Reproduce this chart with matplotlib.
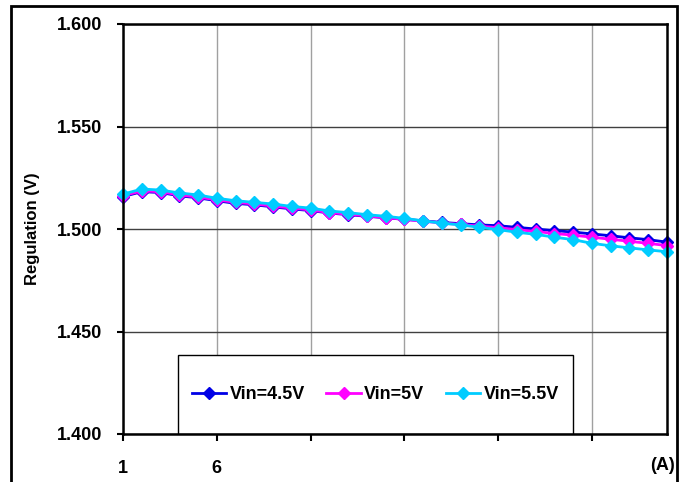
import matplotlib
matplotlib.use("Agg")
import matplotlib.pyplot as plt
import numpy as np
from matplotlib.patches import Rectangle

plt.rcParams["font.family"] = ["Liberation Sans", "DejaVu Sans"]
plt.rcParams["font.weight"] = "bold"

current = np.arange(1, 31)
vin_45 = [1.5158, 1.5182, 1.5178, 1.5162, 1.5152, 1.5138, 1.5125, 1.5118, 1.5108, 1.5098,
          1.5090, 1.5078, 1.5070, 1.5062, 1.5055, 1.5047, 1.5040, 1.5032, 1.5026, 1.5020,
          1.5016, 1.5008, 1.5000, 1.4992, 1.4985, 1.4976, 1.4967, 1.4957, 1.4948, 1.4936]
vin_50 = [1.5162, 1.5186, 1.5182, 1.5166, 1.5156, 1.5142, 1.5130, 1.5122, 1.5112, 1.5102,
          1.5093, 1.5080, 1.5072, 1.5064, 1.5056, 1.5047, 1.5038, 1.5029, 1.5022, 1.5014,
          1.5006, 1.4997, 1.4988, 1.4978, 1.4970, 1.4960, 1.4950, 1.4940, 1.4930, 1.4919]
vin_55 = [1.5170, 1.5195, 1.5190, 1.5176, 1.5166, 1.5150, 1.5138, 1.5130, 1.5122, 1.5110,
          1.5102, 1.5088, 1.5080, 1.5070, 1.5062, 1.5052, 1.5040, 1.5028, 1.5020, 1.5008,
          1.4997, 1.4984, 1.4974, 1.4960, 1.4948, 1.4930, 1.4918, 1.4908, 1.4898, 1.4889]

series = [
    ("Vin=4.5V", vin_45, "#0000E6"),
    ("Vin=5V", vin_50, "#FF00FF"),
    ("Vin=5.5V", vin_55, "#00CCFF"),
]

x_ticks = [1, 6, 11, 16, 21, 26]
x_tick_labels = ["1", "6", "", "", "", ""]
x_unit = "(A)"
y_ticks = np.arange(1.40, 1.601, 0.05)

fig = plt.figure(figsize=(6.88, 4.82), dpi=100)
ax = fig.add_axes([123 / 688, 1 - 434 / 482, 544 / 688, 410 / 482])

for label, values, color in series:
    ax.plot(current, values, color=color, lw=2, marker="D", markersize=6,
            markeredgecolor=color, label=label, clip_on=False)

ax.set_xlim(1, 30)
ax.set_ylim(1.40, 1.60)
ax.set_xticks(x_ticks, x_tick_labels)
ax.set_yticks(y_ticks, [f"{v:.3f}" for v in y_ticks])
ax.tick_params(axis="x", direction="out", length=5, width=1.5, pad=14, labelsize=13)
ax.tick_params(axis="y", direction="out", length=4, width=1.5, pad=11, labelsize=13)

ax.xaxis.grid(True, color="#a0a0a0", lw=1)
ax.yaxis.grid(True, color="#404040", lw=1)
ax.set_axisbelow(True)
for spine in ax.spines.values():
    spine.set_linewidth(1.8)
    spine.set_color("black")
    spine.set_zorder(6)

ax.set_ylabel("Regulation (V)", fontsize=12, fontweight="bold", labelpad=12)
fig.text(675 / 688, 1 - 466 / 482, x_unit, ha="right", va="center",
         fontsize=13, fontweight="bold")

# legend box drawn separately so it can be taller than its contents
box = (0.101, 0.0, 0.726, 0.193)
ax.add_patch(Rectangle(box[:2], box[2], box[3], transform=ax.transAxes,
                       facecolor="white", edgecolor="black", lw=1.0, zorder=4))
leg = ax.legend(loc="center", ncol=3, bbox_to_anchor=box, frameon=False,
                fontsize=13, handlelength=1.9, handletextpad=0.2,
                columnspacing=1.2, borderaxespad=0)
leg.set_zorder(5)

fig.patches.append(Rectangle((11 / 688, -0.05), 666 / 688, 1.05 - 6 / 482,
                             transform=fig.transFigure, fill=False,
                             edgecolor="black", lw=2))

fig.savefig("out.png", dpi=100)
